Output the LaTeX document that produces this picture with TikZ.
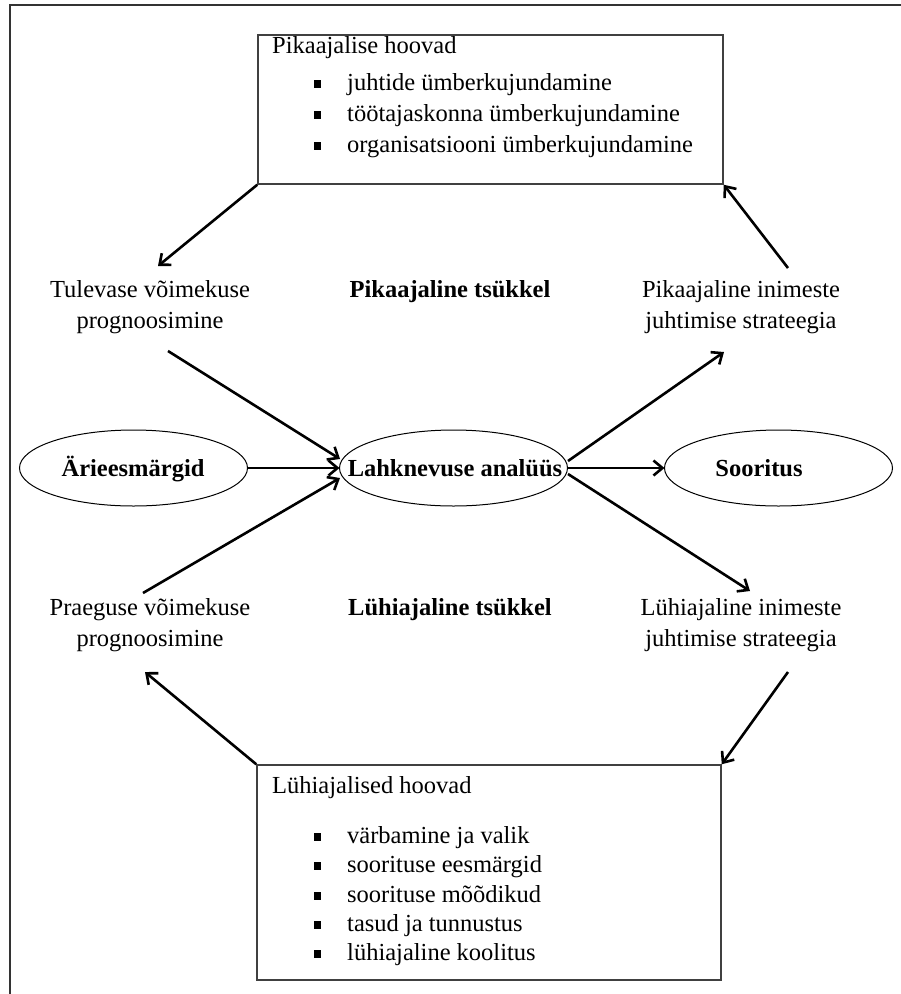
\documentclass[tikz,border=0pt]{standalone}
\usepackage{fontspec}
\setmainfont{Liberation Serif}
\usetikzlibrary{shapes.geometric,arrows.meta}
\newcommand\sqbul{\makebox[33pt][l]{\rule[2pt]{7pt}{8pt}}}
\begin{document}
\begin{tikzpicture}[x=1pt,y=-1pt,
  txt/.style={font=\fontsize{24.5}{31}\selectfont, inner sep=0pt, align=center},
  btxt/.style={inner sep=0pt, align=center, font=\fontsize{24.5}{31}\selectfont\bfseries},
  oval/.style={ellipse, minimum width=228pt, minimum height=76pt, inner sep=0pt, outer sep=0pt},
  ovalline/.style={draw=black, line width=1pt},
  panel/.style={draw=black!75, line width=1.5pt, inner sep=0pt},
  arr/.style={line width=2.6pt, -{Straight Barb[length=9pt,width=15pt,line width=2.6pt]}},
  item/.style={anchor=base west, inner sep=0pt, font=\fontsize{24.5}{31}\selectfont},
  frame/.style={draw=black!80, line width=2pt}]
\useasboundingbox (0,0) rectangle (901,994);
% outer frame
\coordinate (fr1) at (901,5);
\coordinate (fr2) at (10,5);
\coordinate (fr3) at (10,994);
\draw[frame] (fr1) -- (fr2) -- (fr3);

% boxes
\node[panel, minimum width=465pt, minimum height=149pt] (top) at (490.5,109.5) {};
\node[panel, minimum width=464pt, minimum height=215pt] (bot) at (489,872.5) {};

\node[item] (t0) at (272,53) {Pikaajalise hoovad};
\node[item] (t1) at (314,90) {\sqbul juhtide ümberkujundamine};
\node[item] (t2) at (314,121) {\sqbul töötajaskonna ümberkujundamine};
\node[item] (t3) at (314,152) {\sqbul organisatsiooni ümberkujundamine};

\node[item] (b0) at (272,793) {Lühiajalised hoovad};
\node[item] (b1) at (314,843) {\sqbul värbamine ja valik};
\node[item] (b2) at (314,872) {\sqbul soorituse eesmärgid};
\node[item] (b3) at (314,902) {\sqbul soorituse mõõdikud};
\node[item] (b4) at (314,931) {\sqbul tasud ja tunnustus};
\node[item] (b5) at (314,960) {\sqbul lühiajaline koolitus};

% free labels
\node[txt] (tul) at (150,307) {Tulevase võimekuse\\prognoosimine};
\node[btxt] (pik) at (450,292) {Pikaajaline tsükkel};
\node[txt] (pst) at (741,307) {Pikaajaline inimeste\\juhtimise strateegia};
\node[txt] (pra) at (150,625) {Praeguse võimekuse\\prognoosimine};
\node[btxt] (luh) at (450,610) {Lühiajaline tsükkel};
\node[txt] (lst) at (741,625) {Lühiajaline inimeste\\juhtimise strateegia};

% ellipses
\node[oval] (are) at (133.5,468) {};
\node[oval] (lah) at (453.5,468) {};
\node[oval] (soo) at (778.5,468) {};
\draw[ovalline] (are.center) ellipse [x radius=114pt, y radius=38pt];
\draw[ovalline] (lah.center) ellipse [x radius=114pt, y radius=38pt];
\draw[ovalline] (soo.center) ellipse [x radius=114pt, y radius=38pt];
\node[btxt, anchor=base] (aret) at (133,476) {Ärieesmärgid};
\node[btxt, anchor=base] (laht) at (455,476) {Lahknevuse analüüs};
\node[btxt, anchor=base] (soot) at (759,476) {Sooritus};

% connector ends
\coordinate (c1) at (158,266);
\coordinate (c2) at (788,268);
\coordinate (c3) at (168,351);
\coordinate (c3e) at (340,459);
\coordinate (c4) at (143,593);
\coordinate (c4e) at (340,478);
\coordinate (c7) at (568,461);
\coordinate (c7e) at (724,352);
\coordinate (c8) at (568,474);
\coordinate (c8e) at (750,591);
\coordinate (c9) at (788,672);
\coordinate (c10) at (145,672);

\draw[arr] (top.south west) -- (c1);
\draw[arr] (c2) -- (top.south east);
\draw[arr] (c3) -- (c3e);
\draw[arr] (c4) -- (c4e);
\draw[arr] (are.east) -- (lah.west);
\draw[arr] (lah.east) -- (soo.west);
\draw[arr] (c7) -- (c7e);
\draw[arr] (c8) -- (c8e);
\draw[arr] (c9) -- (bot.north east);
\draw[arr] (bot.north west) -- (c10);
\end{tikzpicture}
\end{document}
